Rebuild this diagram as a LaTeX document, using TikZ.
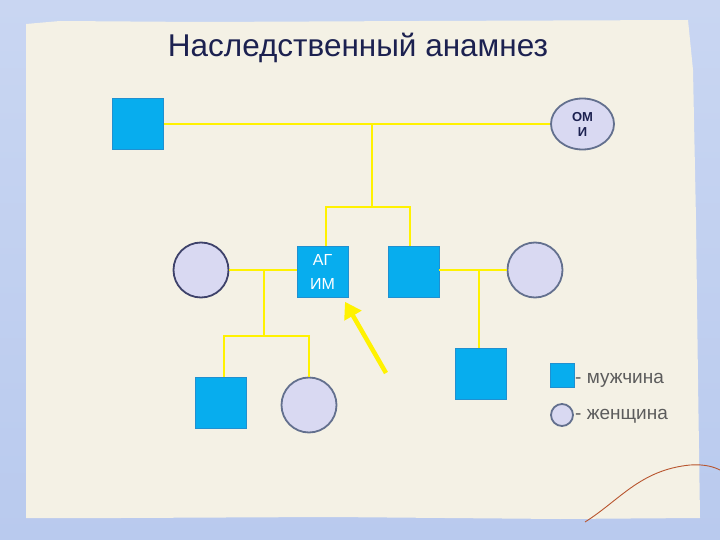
\documentclass[tikz,border=0pt]{standalone}
\usepackage{fontspec}
\setmainfont{Liberation Sans}
\usepackage{xcolor}
\usetikzlibrary{positioning, arrows.meta, shapes.geometric}

\definecolor{skyback}{HTML}{B9CAEE}
\definecolor{skytop}{HTML}{C9D6F2}
\definecolor{paper}{HTML}{F4F1E5}
\definecolor{malefill}{HTML}{07ADEE}
\definecolor{maleedge}{HTML}{2090D0}
\definecolor{femalefill}{HTML}{D9D9F2}
\definecolor{femaleedge}{HTML}{63708E}
\definecolor{bondyellow}{HTML}{FFF200}
\definecolor{titlenavy}{HTML}{1C2150}
\definecolor{legendgray}{HTML}{5C5C5C}
\definecolor{thread}{HTML}{B8552E}

\begin{document}
\begin{tikzpicture}[x=1pt,y=-1pt]
  \tikzstyle{man}=[rectangle,fill=malefill,draw=maleedge,line width=0.6pt,minimum size=51pt,inner sep=0pt]
  \tikzstyle{woman}=[circle,fill=femalefill,draw=femaleedge,line width=1.8pt,minimum size=55pt,inner sep=0pt]
  \tikzstyle{bond}=[draw=bondyellow,line width=2pt]
  \tikzstyle{pointer}=[draw=bondyellow,line width=4.5pt,-{Triangle[length=16pt,width=19pt]}]
  \tikzstyle{keytext}=[anchor=base west,inner sep=0pt,text=legendgray,font=\fontsize{19}{22}\selectfont]

  % background and paper sheet
  \useasboundingbox (0,0) rectangle (720,540);
  \shade[top color=skytop,bottom color=skyback] (0,0) rectangle (720,540);
  \fill[paper] (26,24) -- (60,21) -- (200,22) -- (420,21) -- (688,20)
    -- (693,70) -- (696,220) -- (698,380) -- (700,518)
    -- (560,519) -- (330,517) -- (120,518) -- (26,518) -- cycle;
  \draw[thread,line width=0.9pt] (585,522) .. controls (620,500) and (640,470) .. (690,465)
    .. controls (705,464) and (714,467) .. (720,470);

  \node[font=\fontsize{31.5}{36}\selectfont,text=titlenavy,anchor=base] (title) at (358,57) {Наследственный анамнез};

  % grandparents
  \node[man](gf) at (138,124) {};
  \node[woman,ellipse,minimum width=63pt,minimum height=51pt,align=center,
        text=titlenavy,font=\bfseries\fontsize{13}{15}\selectfont](gm) at (582.5,124) {ОМ\\И};
  % second generation
  \node[woman,draw=titlenavy!85](wf) at (201,270) {};
  \node[man,align=center,text=white,font=\fontsize{16}{24}\selectfont](pr) at (322.5,272) {АГ\\ИМ};
  \node[man](br) at (413.5,272) {};
  \node[woman](bw) at (535,270) {};
  % third generation
  \node[man](son) at (221,403) {};
  \node[woman](dau) at (309,405) {};
  \node[man](neph) at (481,374) {};

  % legend
  \node[man,minimum size=24pt](keyman) at (562,375.5) {};
  \node[keytext] (keymantext) at (575,383) {- мужчина};
  \node[woman,minimum size=22pt](keywoman) at (562,415) {};
  \node[keytext] (keywomantext) at (575,419.5) {- женщина};

  % lines
  \coordinate (top) at (372,124);
  \coordinate (sibs) at (372,207);
  \coordinate (c1) at (264,270);
  \coordinate (kids) at (264,336);
  \coordinate (c2) at (479,270);
  \coordinate (tail) at (386,373);

  \draw[bond] (gf) -- (gm);
  \draw[bond] (top) -- (sibs);
  \draw[bond] ([xshift=3.5pt]pr.north) |- (sibs) -| ([xshift=-3.5pt]br.north);
  \draw[bond] (wf.east) -- (wf.east -| pr.west);
  \draw[bond] (c1) -- (kids);
  \draw[bond] ([xshift=3pt]son.north) |- (kids) -| (dau.north);
  \draw[bond] (br.east |- c2) -- (bw.west |- c2);
  \draw[bond] (c2) -- (c2 |- neph.north);
  \draw[pointer] (tail) -- ([shift={(22.5,4)}]pr.south);
\end{tikzpicture}
\end{document}
